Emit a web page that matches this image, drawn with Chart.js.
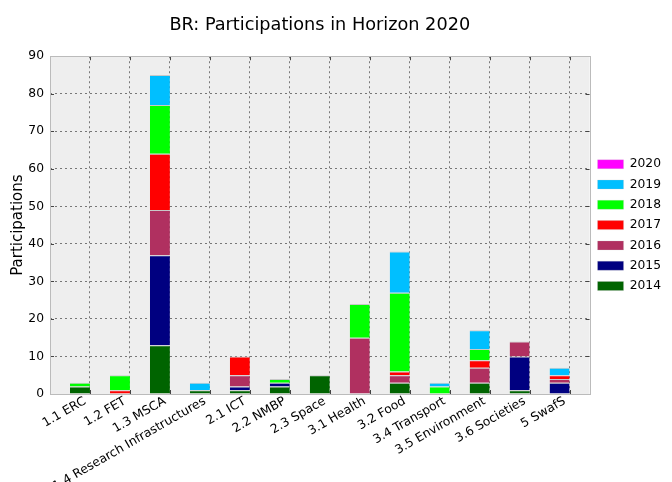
<!DOCTYPE html>
<html><head><meta charset="utf-8">
<script src="https://cdn.jsdelivr.net/npm/chart.js@4"></script>
<style>html,body{margin:0;padding:0;background:#fff}#wrap{width:672px;height:482px;position:relative}</style>
</head><body><div id="wrap"><canvas id="c"></canvas></div>
<script>
const categories = ['1.1 ERC','1.2 FET','1.3 MSCA','1.4 Research Infrastructures','2.1 ICT','2.2 NMBP','2.3 Space','3.1 Health','3.2 Food','3.4 Transport','3.5 Environment','3.6 Societies','5 SwafS'];
const years = ['2014','2015','2016','2017','2018','2019','2020'];
const v2014 = [2,0,13,1,1,2,5,0,3,0,3,1,0];
const v2015 = [0,0,24,0,1,1,0,0,0,0,0,9,3];
const v2016 = [0,0,12,0,3,0,0,15,2,0,4,4,1];
const v2017 = [0,1,15,0,5,0,0,0,1,0,2,0,1];
const v2018 = [1,4,13,0,0,1,0,9,21,2,3,0,0];
const v2019 = [0,0,8,2,0,0,0,0,11,1,5,0,2];
const v2020 = [0,0,0,0,0,0,0,0,0,0,0,0,0];
const yTicks = [0,10,20,30,40,50,60,70,80,90];
const colors = ['#006400','#000080','#B03060','#FF0000','#00FF00','#00BFFF','#FF00FF'];
const series = [v2014,v2015,v2016,v2017,v2018,v2019,v2020];

Chart.defaults.font.family = "'DejaVu Sans', sans-serif";
Chart.defaults.color = '#000';

// bars occupy [i, i+0.5]; tick labels sit at i+0.5
const barPos = categories.map((_, i) => i + 0.25);
const tickPos = categories.map((_, i) => i + 0.5);

const datasets = series.map((vals, k) => ({
  label: years[k],
  data: vals.map((v, i) => ({x: barPos[i], y: v === 0 ? null : v})),
  backgroundColor: colors[k],
  borderColor: '#c8c8c8',
  borderWidth: {top: 1, left: 0, right: 0, bottom: 0},
  borderSkipped: false,
  categoryPercentage: 1.0,
  barPercentage: 0.5
}));

const framePlugin = {
  id: 'frame',
  beforeDraw(chart) {
    const {ctx, chartArea: a} = chart;
    ctx.save();
    ctx.fillStyle = '#eeeeee';
    ctx.fillRect(a.left, a.top, a.right - a.left, a.bottom - a.top);
    ctx.restore();
  },
  afterDatasetsDraw(chart) {
    const {ctx, chartArea: a, scales} = chart;
    ctx.save();
    ctx.strokeStyle = '#444';
    ctx.lineWidth = 1;
    ctx.beginPath();
    yTicks.forEach(v => {
      const y = Math.round(scales.y.getPixelForValue(v)) + 0.5;
      ctx.moveTo(a.left, y); ctx.lineTo(a.left + 4, y);
      ctx.moveTo(a.right, y); ctx.lineTo(a.right - 4, y);
    });
    tickPos.forEach(v => {
      const x = Math.round(scales.x.getPixelForValue(v)) + 0.5;
      ctx.moveTo(x, a.bottom); ctx.lineTo(x, a.bottom - 4);
      ctx.moveTo(x, a.top); ctx.lineTo(x, a.top + 4);
    });
    ctx.stroke();
    ctx.strokeStyle = '#bbbbbb';
    ctx.strokeRect(Math.round(a.left) + 0.5, Math.round(a.top) + 0.5, Math.round(a.right - a.left), Math.round(a.bottom - a.top));
    ctx.restore();
  }
};

new Chart(document.getElementById('c'), {
  type: 'bar',
  data: {datasets},
  options: {
    responsive: true,
    maintainAspectRatio: false,
    animation: false,
    layout: {padding: {left: 0, right: 1, top: 0, bottom: 0}},
    plugins: {
      title: {
        display: true,
        text: 'BR: Participations in Horizon 2020',
        fullSize: false,
        font: {size: 17.7, weight: 'normal'},
        color: '#000',
        padding: {top: 15, bottom: 20}
      },
      legend: {
        position: 'right',
        fullSize: false,
        reverse: true,
        labels: {
          boxWidth: 26,
          boxHeight: 9,
          padding: 8,
          font: {size: 12.3},
          color: '#000'
        }
      },
      tooltip: {enabled: false}
    },
    scales: {
      x: {
        type: 'linear',
        stacked: true,
        offset: false,
        min: -0.5,
        max: 13,
        afterBuildTicks: (scale) => { scale.ticks = tickPos.map(v => ({value: v})); },
        afterFit: (scale) => { scale.height = 88; },
        ticks: {
          autoSkip: false,
          minRotation: 30,
          maxRotation: 30,
          padding: 0,
          labelOffset: -5,
          font: {size: 12.3},
          color: '#000',
          callback: (value, index) => categories[index]
        },
        grid: {offset: false, color: 'rgba(0,0,0,0.5)', lineWidth: 1, drawTicks: false},
        border: {display: false, dash: [2, 3]}
      },
      y: {
        stacked: true,
        min: 0,
        max: 90,
        afterBuildTicks: (scale) => { scale.ticks = yTicks.map(v => ({value: v})); },
        afterFit: (scale) => { scale.width = 50; },
        ticks: {padding: 6, font: {size: 12.3}, color: '#000'},
        grid: {color: 'rgba(0,0,0,0.5)', lineWidth: 1, drawTicks: false},
        border: {display: false, dash: [2, 3]},
        title: {
          display: true,
          text: 'Participations',
          font: {size: 15},
          color: '#000',
          padding: {top: 9, bottom: 0}
        }
      }
    }
  },
  plugins: [framePlugin]
});
</script>
</body></html>
